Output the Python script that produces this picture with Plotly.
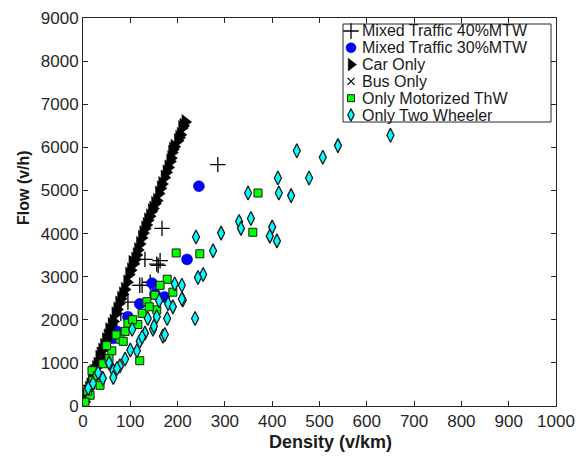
import plotly.graph_objects as go

# ---- data ----
mt40_x = [285, 167, 131, 163, 159, 156, 120, 142, 125, 95, 80, 60, 45, 30, 15, 8]
mt40_y = [5600, 4120, 3400, 3370, 3260, 3290, 2800, 2870, 2800, 2410, 2150, 1750, 1350, 950, 480, 220]

mt30_x = [245, 220, 146, 152, 172, 120, 95, 72, 64, 40, 25, 10]
mt30_y = [5100, 3400, 2850, 2600, 2530, 2370, 2070, 1730, 1570, 1120, 750, 300]

car_x = [3, 6, 9, 12, 15, 18, 21, 24, 27, 30, 34, 37, 40, 44, 48, 52, 55, 60, 64, 68,
         72, 76, 80, 84, 88, 93, 97, 101, 104, 107, 110, 113, 116, 120, 124, 127, 131,
         134, 137, 141, 145, 148, 152, 156, 160, 164, 167, 172, 176, 180, 184, 186, 188,
         190, 193, 200, 203, 206, 209, 212, 216]
car_y = [100, 190, 300, 400, 480, 580, 690, 770, 880, 960, 1120, 1180, 1290, 1400, 1530,
         1620, 1760, 1880, 1960, 2130, 2240, 2380, 2490, 2590, 2700, 2870, 3050, 3150,
         3320, 3300, 3400, 3500, 3620, 3760, 3900, 4010, 4120, 4200, 4310, 4400, 4520,
         4580, 4690, 4760, 4930, 5050, 5150, 5300, 5420, 5535, 5670, 5750, 5880, 5950,
         6015, 6150, 6220, 6290, 6450, 6500, 6590]

bus_x = [5, 12, 20]
bus_y = [150, 350, 600]

mtw_x = [370, 359, 197, 247, 178, 163, 190, 152, 135, 156, 125, 95, 116, 89, 78, 61, 120,
         42, 19, 21, 15, 4, 36, 50, 70, 105, 140, 30, 55, 85, 10]
mtw_y = [4940, 4030, 3550, 3530, 2940, 2800, 2640, 2570, 2420, 2230, 2150, 1920, 1890,
         1730, 1550, 1280, 1050, 980, 820, 590, 250, 90, 480, 1400, 1650, 2000, 2300, 700,
         1100, 1500, 350]

tw_x = [650, 452, 539, 507, 412, 478, 349, 414, 440, 330, 355, 334, 400, 395, 410, 239,
        292, 275, 254, 243, 194, 209, 211, 237, 209, 180, 161, 137, 178, 169, 148, 131,
        104, 120, 114, 89, 78, 64, 42, 32, 21, 64, 173, 156, 11, 72, 100, 150, 190, 125, 55]
tw_y = [6280, 5920, 6040, 5770, 5290, 5290, 4940, 4940, 4880, 4280, 4350, 4120, 4150,
        3940, 3830, 3920, 4010, 3600, 3050, 2980, 2830, 2800, 2460, 2030, 2480, 2370,
        2440, 2030, 2030, 1620, 1780, 1690, 1780, 1500, 1280, 1090, 930, 820, 640, 770,
        520, 660, 1660, 2070, 410, 870, 1300, 1850, 2300, 1600, 1000]

series_names = ["Mixed Traffic 40%MTW", "Mixed Traffic 30%MTW", "Car Only", "Bus Only",
                "Only Motorized ThW", "Only Two Wheeler"]

x_ticks = list(range(0, 1001, 100))
y_ticks = list(range(0, 9001, 1000))

x_title = "Density (v/km)"
y_title = "Flow (v/h)"

FONT = "Liberation Sans, Arial, sans-serif"
TXT = "#1a1a1a"

markers = [
    dict(symbol="cross-thin", size=11, line=dict(color="black", width=1.3)),
    dict(symbol="circle", size=11, color="#0000ff", line=dict(color="#0000aa", width=0.5)),
    dict(symbol="triangle-right", size=13, color="black", line=dict(color="black", width=0.5)),
    dict(symbol="x-thin", size=7, line=dict(color="black", width=1.2)),
    dict(symbol="square", size=8, color="#00ff00", line=dict(color="#1a1a1a", width=1)),
    dict(symbol="diamond-tall", size=10, color="#00ffff", line=dict(color="#1a1a1a", width=1.3)),
]
xs = [mt40_x, mt30_x, car_x, bus_x, mtw_x, tw_x]
ys = [mt40_y, mt30_y, car_y, bus_y, mtw_y, tw_y]

fig = go.Figure()
for name, mx, my, mk in zip(series_names, xs, ys, markers):
    fig.add_trace(go.Scatter(x=mx, y=my, mode="markers", name=name, marker=mk,
                             showlegend=False))

# ---- page geometry (page has an 8px body margin, so the figure is 8px smaller) ----
OFF = 8
PL, PR, PT, PB = 83, 556, 18, 406   # plot area in page pixels
W, H = 587 - OFF, 456 - OFF
L, T = PL - OFF, PT - OFF
R, B = W - (PR - OFF), H - (PB - OFF)

def px_to_paper_x(p):
    return (p - PL) / (PR - PL)

def px_to_paper_y(p):
    return (PB - p) / (PB - PT)

# custom compact legend, laid out in page pixels
box = dict(x0=343, x1=551, y0=24, y1=122)
row_y0, row_dy = 31, 16.8
sym_x, txt_x = 351, 360

fig.add_shape(type="rect", xref="paper", yref="paper",
              x0=px_to_paper_x(box["x0"]), x1=px_to_paper_x(box["x1"]),
              y0=px_to_paper_y(box["y1"]), y1=px_to_paper_y(box["y0"]),
              line=dict(color="#262626", width=1), fillcolor="white", layer="below")

legend_marker_sizes = [11, 10, 11, 7, 7, 9]
for i, (name, mk) in enumerate(zip(series_names, markers)):
    yy = row_y0 + i * row_dy
    lm = dict(mk)
    lm["size"] = legend_marker_sizes[i]
    fig.add_trace(go.Scatter(x=[sym_x], y=[yy], xaxis="x2", yaxis="y2", mode="markers",
                             marker=lm, showlegend=False, hoverinfo="skip"))
    fig.add_annotation(x=px_to_paper_x(txt_x), y=px_to_paper_y(yy), xref="paper", yref="paper",
                       text=name, showarrow=False, xanchor="left", yanchor="middle",
                       font=dict(family=FONT, size=16, color=TXT))

# axis titles placed as in the reference
fig.add_annotation(x=px_to_paper_x(330), y=px_to_paper_y(442), xref="paper", yref="paper",
                   text="<b>" + x_title + "</b>", showarrow=False,
                   xanchor="center", yanchor="middle",
                   font=dict(family=FONT, size=18, color=TXT))
fig.add_annotation(x=px_to_paper_x(23), y=px_to_paper_y(188), xref="paper", yref="paper",
                   text="<b>" + y_title + "</b>", showarrow=False, textangle=-90,
                   xanchor="center", yanchor="middle",
                   font=dict(family=FONT, size=16, color=TXT))

axis_common = dict(showline=True, linecolor="#262626", linewidth=1, mirror="ticks",
                   ticks="inside", ticklen=5, tickcolor="#262626", showgrid=False,
                   zeroline=False, automargin=False, ticklabeloverflow="allow",
                   tickfont=dict(family=FONT, size=17, color="#262626"))

fig.update_layout(
    width=W, height=H,
    margin=dict(l=L, r=R, t=T, b=B),
    plot_bgcolor="white", paper_bgcolor="white",
    font=dict(family=FONT, color=TXT),
    showlegend=False,
    xaxis=dict(range=[0, 1000], tickvals=x_ticks, ticktext=[str(v) for v in x_ticks],
               **axis_common),
    yaxis=dict(range=[0, 9000], tickvals=y_ticks, ticktext=[str(v) for v in y_ticks],
               **axis_common),
    xaxis2=dict(overlaying="x", range=[PL, PR], visible=False, fixedrange=True),
    yaxis2=dict(overlaying="y", range=[PB, PT], visible=False, fixedrange=True),
)

fig.write_html("out.html")
